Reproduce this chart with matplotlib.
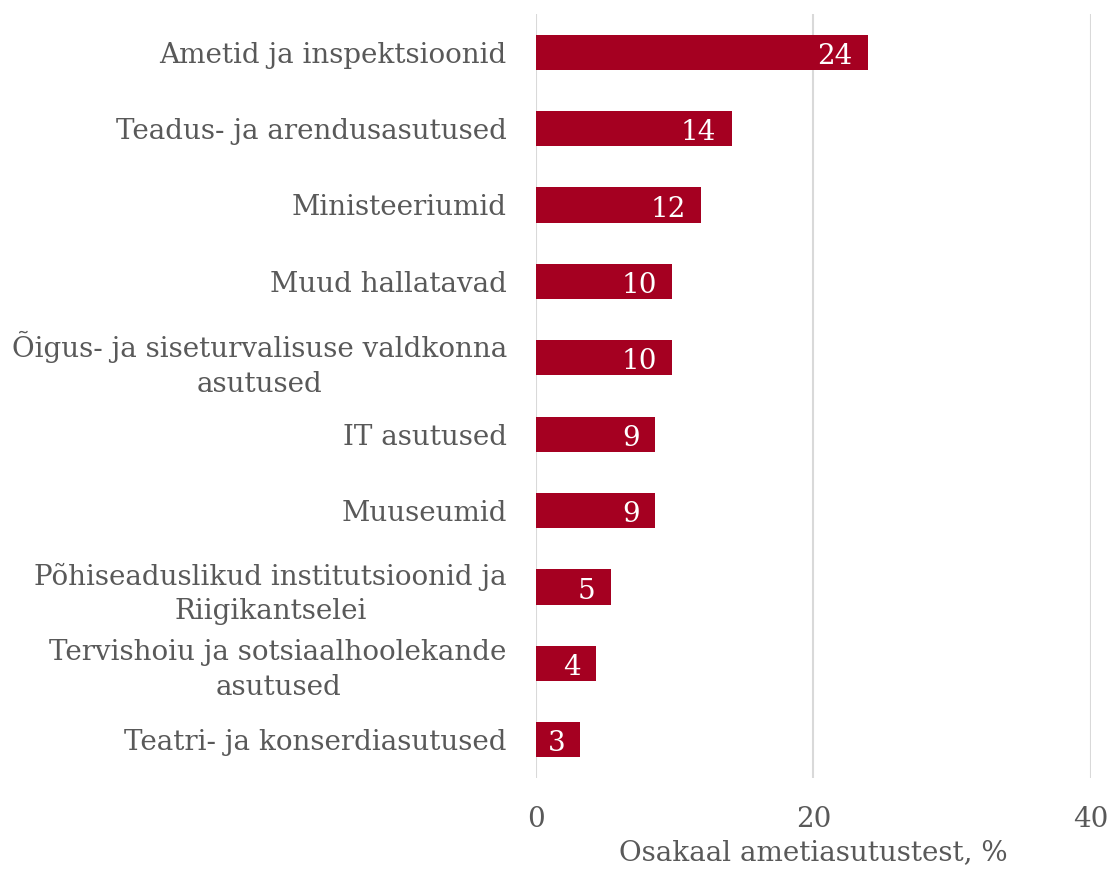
import matplotlib.pyplot as plt
import numpy as np

# kategooriad ja väärtused (loetud jooniselt)
categories = [
    "Ametid ja inspektsioonid",
    "Teadus- ja arendusasutused",
    "Ministeeriumid",
    "Muud hallatavad",
    "Õigus- ja siseturvalisuse valdkonna\nasutused",
    "IT asutused",
    "Muuseumid",
    "Põhiseaduslikud institutsioonid ja\nRiigikantselei",
    "Tervishoiu ja sotsiaalhoolekande\nasutused",
    "Teatri- ja konserdiasutused",
]
values = [23.9, 14.1, 11.9, 9.8, 9.8, 8.6, 8.6, 5.4, 4.3, 3.2]
xticks = [0, 20, 40]

bar_color = "#A50021"
text_color = "#595959"

plt.rcParams["font.family"] = ["DejaVu Serif"]

fig = plt.figure(figsize=(11.14, 8.74), dpi=100)
ax = fig.add_axes([0.4811, 0.1098, 0.4983, 0.8742])

y = np.arange(len(categories))
ax.barh(y, values, height=0.46, color=bar_color, zorder=3)

for yi, v in zip(y, values):
    ax.annotate(f"{v:.0f}", xy=(v, yi), xytext=(-11, -3), textcoords="offset points",
                ha="right", va="center", color="white", fontsize=20, zorder=4)

ax.set_xlim(0, 40)
ax.set_ylim(len(categories) - 0.5, -0.5)
ax.set_yticks(y)
ax.set_yticklabels(categories, fontsize=20, color=text_color, multialignment="center",
                   linespacing=1.35)
ax.set_xticks(xticks)
ax.set_xticklabels([str(t) for t in xticks], fontsize=20, color=text_color)
ax.tick_params(axis="both", length=0)
ax.tick_params(axis="y", pad=21)
ax.tick_params(axis="x", pad=20)

ax.grid(axis="x", color="#d9d9d9", linewidth=1.5, zorder=0)
for s in ax.spines.values():
    s.set_visible(False)

ax.set_xlabel("Osakaal ametiasutustest, %", fontsize=20, color=text_color)
ax.xaxis.set_label_coords(0.5, -0.08)

fig.savefig("out.png", dpi=100)
